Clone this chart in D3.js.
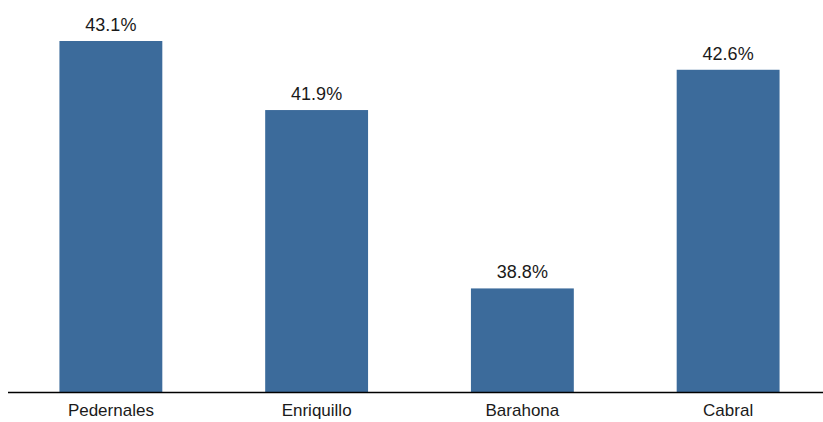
<!DOCTYPE html>
<html>
<head>
<meta charset="utf-8">
<script src="https://cdn.jsdelivr.net/npm/d3@7"></script>
<style>
  body { margin: 0; background: #fff; }
  text { font-family: "Liberation Sans", Arial, sans-serif; fill: #1a1a1a; }
</style>
</head>
<body>
<script>
// data
var categories = ["Pedernales", "Enriquillo", "Barahona", "Cabral"];
var values = [43.1, 41.9, 38.8, 42.6];

var width = 823, height = 422;

var svg = d3.select("body").append("svg")
    .attr("width", width)
    .attr("height", height);

// set the ranges
var x = d3.scaleBand()
    .domain(categories)
    .range([8, 831])
    .paddingInner(0.5)
    .paddingOuter(0.25);

var y = d3.scaleLinear()
    .domain([37, 43.1])
    .range([392, 41]);

var data = categories.map(function(c, i) { return {cat: c, val: values[i]}; });

// bars
svg.selectAll(".bar")
    .data(data)
  .enter().append("rect")
    .attr("class", "bar")
    .attr("x", function(d) { return x(d.cat); })
    .attr("width", x.bandwidth())
    .attr("y", function(d) { return y(d.val); })
    .attr("height", function(d) { return y.range()[0] - y(d.val); })
    .style("fill", "#3c6b9b");

// value labels
svg.selectAll(".val")
    .data(data)
  .enter().append("text")
    .attr("class", "val")
    .attr("x", function(d) { return x(d.cat) + x.bandwidth() / 2; })
    .attr("y", function(d) { return y(d.val) - 10; })
    .attr("text-anchor", "middle")
    .style("font-size", "18px")
    .text(function(d) { return d.val.toFixed(1) + "%"; });

// x axis
var xAxis = d3.axisBottom(x).tickSize(0).tickPadding(12);
var gX = svg.append("g")
    .attr("transform", "translate(0," + y.range()[0] + ")")
    .call(xAxis);
gX.select(".domain")
    .attr("d", "M8,0.5H823")
    .style("stroke", "#000")
    .style("stroke-width", 1.5);
gX.selectAll("text")
    .style("font-size", "17px")
    .style("font-family", "Liberation Sans, Arial, sans-serif")
    .style("fill", "#1a1a1a");
</script>
</body>
</html>
